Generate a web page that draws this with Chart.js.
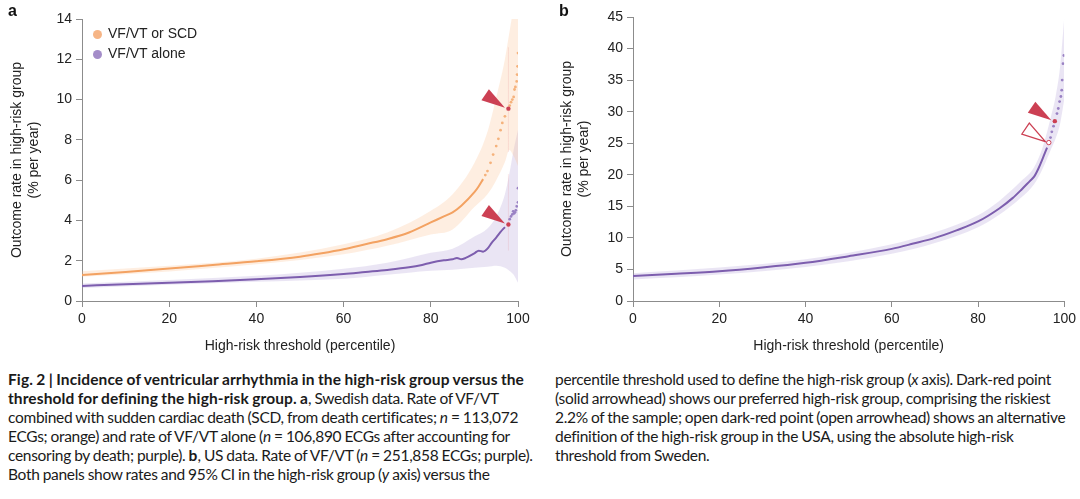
<!DOCTYPE html>
<html>
<head>
<meta charset="utf-8">
<script src="https://cdn.jsdelivr.net/npm/chart.js@4/dist/chart.umd.min.js"></script>
<style>
  body { margin: 0; background: #fff; width: 1080px; height: 499px; overflow: hidden; position: relative; font-family: "Liberation Sans", Arial, sans-serif; }
  canvas { position: absolute; top: 0; }
  #chartA { left: 0; }
  #chartB { left: 545px; }
  .panel { position: absolute; top: 2px; font: bold 16px "Liberation Sans", Arial, sans-serif; color: #111; }
  .legend { position: absolute; left: 93px; font-size: 14px; color: #222; }
  .legend span { display: inline-block; width: 9px; height: 9px; border-radius: 50%; margin-right: 6px; vertical-align: -1px; }
  .caption { position: absolute; top: 370px; font-family: Lato, sans-serif; font-size: 15.5px; line-height: 19px; color: #1a1a1a; white-space: nowrap; letter-spacing: -0.3px; word-spacing: -0.5px; }
  .caption b { font-weight: bold; letter-spacing: 0.1px; }
</style>
</head>
<body>
<canvas id="chartA" width="545" height="360"></canvas>
<canvas id="chartB" width="535" height="360"></canvas>
<div class="panel" style="left:8px">a</div>
<div class="panel" style="left:559px">b</div>
<div class="legend" style="top:25px"><span style="background:#f6b586"></span>VF/VT or SCD</div>
<div class="legend" style="top:45px"><span style="background:#a48dc9"></span>VF/VT alone</div>

<div class="caption" style="left:8px">
<b>Fig. 2 | Incidence of ventricular arrhythmia in the high-risk group versus the</b><br>
<b>threshold for defining the high-risk group. a</b>, Swedish data. Rate of VF/VT<br>
combined with sudden cardiac death (SCD, from death certificates; <i>n</i> = 113,072<br>
ECGs; orange) and rate of VF/VT alone (<i>n</i> = 106,890 ECGs after accounting for<br>
censoring by death; purple). <b>b</b>, US data. Rate of VF/VT (<i>n</i> = 251,858 ECGs; purple).<br>
Both panels show rates and 95% CI in the high-risk group (<i>y</i> axis) versus the
</div>
<div class="caption" style="left:555px">
percentile threshold used to define the high-risk group (<i>x</i> axis). Dark-red point<br>
(solid arrowhead) shows our preferred high-risk group, comprising the riskiest<br>
2.2% of the sample; open dark-red point (open arrowhead) shows an alternative<br>
definition of the high-risk group in the USA, using the absolute high-risk<br>
threshold from Sweden.
</div>

<script>
// ---- panel a : Swedish data ----
// VF/VT or SCD (orange), solid line part
const scdX    = [0, 10, 20, 30, 40, 50, 55, 60, 65, 70, 75, 80, 83, 85, 87, 90, 91, 92];
const scdRate = [1.29, 1.44, 1.61, 1.79, 1.97, 2.2, 2.37, 2.57, 2.82, 3.07, 3.4, 3.9, 4.2, 4.4, 4.73, 5.4, 5.7, 6.05];
// dotted tail
const scdTailX    = [92.5, 93.0, 93.7, 94.3, 95.0, 95.5, 96.0, 96.4, 97.0, 98.1, 98.4, 98.7, 99.0, 99.2, 99.4, 99.7, 99.8, 99.9, 100];
const scdTailRate = [6.25, 6.45, 6.86, 7.27, 7.69, 8.05, 8.48, 8.84, 9.17, 9.70, 9.87, 10.0, 10.13, 10.5, 10.63, 10.9, 11.24, 11.65, 12.31];
// 95% CI
const scdCiX  = [0, 20, 40, 60, 70, 80, 85, 90, 93, 95, 97, 98, 99, 100];
const scdLow  = [1.21, 1.47, 1.82, 2.32, 2.74, 3.3, 3.55, 4.67, 5.3, 6.0, 6.9, 7.5, 7.2, 6.7];
const scdHigh = [1.48, 1.75, 2.1, 2.82, 3.4, 4.48, 5.3, 6.85, 8.4, 10.1, 12.0, 13.3, 14.5, 15];

// VF/VT alone (purple)
const vtX    = [0, 10, 20, 30, 40, 50, 60, 65, 70, 75, 78, 80, 83, 85, 86, 87, 88, 90, 91, 92, 93, 94, 95, 96, 97];
const vtRate = [0.75, 0.83, 0.9, 0.98, 1.08, 1.19, 1.34, 1.44, 1.54, 1.67, 1.79, 1.9, 2.02, 2.07, 2.14, 2.07, 2.14, 2.37, 2.5, 2.45, 2.6, 2.9, 3.15, 3.43, 3.67];
const vtTailX    = [98.1, 98.4, 98.7, 98.9, 99.1, 99.3, 99.5, 99.7, 100, 100];
const vtTailRate = [4.06, 4.2, 4.3, 4.45, 4.35, 4.4, 4.5, 4.7, 4.9, 5.6];
const vtCiX  = [0, 40, 60, 70, 80, 85, 90, 93, 95, 97, 98, 99, 100];
const vtLow  = [0.65, 0.95, 1.1, 1.3, 1.5, 1.55, 1.65, 1.7, 1.75, 1.65, 1.5, 1.3, 0.9];
const vtHigh = [0.87, 1.25, 1.6, 1.9, 2.4, 2.6, 3.2, 3.6, 4.2, 5.3, 6.3, 7.5, 8.5];

// preferred high-risk group (riskiest 2.2%)
const prefPct = 97.8;
const prefScd = 9.55, prefScdCi = [7.4, 12.6];
const prefVt  = 3.8,  prefVtCi  = [2.5, 6.3];

// ---- panel b : US data ----
const usX    = [0, 10, 20, 30, 40, 50, 60, 65, 70, 75, 80, 85, 88, 90, 92, 93, 94, 95, 96];
const usRate = [3.95, 4.3, 4.7, 5.3, 6.05, 7.1, 8.26, 9.1, 10.0, 11.2, 12.6, 14.7, 16.3, 17.6, 19.0, 19.7, 21.0, 22.6, 24.3];
const usTailX    = [96.8, 97.1, 97.5, 98.3, 98.6, 98.9, 99.2, 99.4, 99.5, 99.7, 99.9];
const usTailRate = [25.9, 26.8, 27.7, 29.7, 30.5, 31.6, 32.4, 33.4, 35.0, 37.6, 38.9];
const usCiX  = [0, 20, 40, 60, 70, 80, 85, 90, 93, 95, 97, 98, 99, 100];
const usLow  = [3.4, 4.2, 5.4, 7.5, 9.2, 11.7, 13.7, 16.4, 18.5, 21.0, 24.2, 25.8, 28, 32];
const usHigh = [4.4, 5.3, 6.6, 9.0, 10.9, 13.6, 15.9, 19.0, 21.2, 24.4, 29.5, 32.5, 37, 45];
const usPref = 28.5;
const usAltPct = 96.4, usAlt = 25.1;   // absolute threshold from Sweden

// tick labels
const xTicks  = [0, 20, 40, 60, 80, 100];
const yTicksA = [0, 2, 4, 6, 8, 10, 12, 14];
const yTicksB = [0, 5, 10, 15, 20, 25, 30, 35, 40, 45];

const ORANGE = '#f3a262', ORANGE_DOT = '#f5b27c', ORANGE_BAND = 'rgba(250,190,140,0.26)';
const PURPLE = '#7d5eae', PURPLE_DOT = '#9a82c4', PURPLE_BAND = 'rgba(160,135,205,0.22)';
const RED = '#cc4053';
const AXIS = '#8c8c8c';
const FONT = "'Liberation Sans', Arial, sans-serif";

const zip = (xs, ys) => xs.map((x, i) => ({ x: x, y: ys[i] }));

function band(xs, lo, hi, color) {
  return [
    { data: zip(xs, lo), borderWidth: 0, pointRadius: 0, fill: false, order: 10 },
    { data: zip(xs, hi), borderWidth: 0, pointRadius: 0, fill: '-1', backgroundColor: color, order: 10 }
  ];
}
function line(xs, ys, color) {
  return { data: zip(xs, ys), borderColor: color, borderWidth: 2, pointRadius: 0, order: 2 };
}
function dots(xs, ys, color) {
  return { data: zip(xs, ys), showLine: false, pointRadius: 1.4, pointBorderWidth: 0, pointBackgroundColor: color, order: 1 };
}
function vline(x, ci) {
  return { data: [{ x: x, y: ci[0] }, { x: x, y: ci[1] }], borderColor: 'rgba(225,110,120,0.16)', borderWidth: 1, pointRadius: 0, order: 3 };
}
function redPoint(x, y, open) {
  return { data: [{ x: x, y: y }], showLine: false, pointRadius: 2.2,
           pointBackgroundColor: open ? '#fff' : RED, pointBorderColor: RED, pointBorderWidth: open ? 1 : 0, order: 0 };
}

// arrowheads pointing at the dark-red points
const arrowPlugin = {
  id: 'arrows',
  afterDatasetsDraw(chart, args, opts) {
    const ctx = chart.ctx, xs = chart.scales.x, ys = chart.scales.y;
    (opts.list || []).forEach(a => {
      const px = xs.getPixelForValue(a.x), py = ys.getPixelForValue(a.y);
      ctx.save();
      ctx.beginPath();
      ctx.moveTo(px - 3.5, py - 1);
      ctx.lineTo(px - 27, py - 8.5);
      ctx.lineTo(px - 19.5, py - 19.5);
      ctx.closePath();
      if (a.open) {
        ctx.fillStyle = '#fff'; ctx.fill();
        ctx.strokeStyle = RED; ctx.lineWidth = 1.2; ctx.stroke();
      } else {
        ctx.fillStyle = RED; ctx.fill();
      }
      ctx.restore();
    });
  }
};

function scales(yMax, yTicks, titlePad, yWidth) {
  const font = { family: FONT, size: 14 };
  return {
    x: {
      type: 'linear', min: 0, max: 100,
      afterBuildTicks: s => { s.ticks = xTicks.map(v => ({ value: v })); },
      afterFit: s => { s.height = 59; },
      ticks: { font: font, color: '#222', padding: 4 },
      grid: { drawOnChartArea: false, tickLength: 6, color: AXIS },
      border: { color: AXIS },
      title: { display: true, text: 'High-risk threshold (percentile)', color: '#222',
               font: { family: FONT, size: 14 }, padding: { top: 0, bottom: 5 } }
    },
    y: {
      type: 'linear', min: 0, max: yMax,
      afterBuildTicks: s => { s.ticks = yTicks.map(v => ({ value: v })); },
      afterFit: s => { s.width = yWidth; },
      ticks: { font: font, color: '#222', padding: 4 },
      grid: { drawOnChartArea: false, tickLength: 6, color: AXIS },
      border: { color: AXIS },
      title: { display: true, text: ['Outcome rate in high-risk group', '(% per year)'], color: '#222',
               font: { family: FONT, size: 14 }, padding: { top: titlePad, bottom: 0 } }
    }
  };
}

const common = {
  responsive: false, animation: false, devicePixelRatio: 1,
  plugins: { legend: { display: false }, tooltip: { enabled: false } },
  elements: { line: { cubicInterpolationMode: 'monotone' } }
};

new Chart(document.getElementById('chartA'), {
  type: 'line',
  data: {
    datasets: [
      ...band(scdCiX, scdLow, scdHigh, ORANGE_BAND),
      ...band(vtCiX, vtLow, vtHigh, PURPLE_BAND),
      line(scdX, scdRate, ORANGE),
      dots(scdTailX, scdTailRate, ORANGE_DOT),
      line(vtX, vtRate, PURPLE),
      dots(vtTailX, vtTailRate, PURPLE_DOT),
      vline(prefPct, prefScdCi),
      vline(prefPct, prefVtCi),
      redPoint(prefPct, prefScd, false),
      redPoint(prefPct, prefVt, false)
    ]
  },
  options: Object.assign({}, common, {
    layout: { padding: { top: 19, right: 27, bottom: 0, left: 0 } },
    scales: scales(14, yTicksA, 9, 82),
    plugins: Object.assign({}, common.plugins, {
      arrows: { list: [{ x: prefPct, y: prefScd }, { x: prefPct, y: prefVt }] }
    })
  }),
  plugins: [arrowPlugin]
});

new Chart(document.getElementById('chartB'), {
  type: 'line',
  data: {
    datasets: [
      ...band(usCiX, usLow, usHigh, PURPLE_BAND),
      line(usX, usRate, PURPLE),
      dots(usTailX, usTailRate, PURPLE_DOT),
      redPoint(prefPct, usPref, false),
      redPoint(usAltPct, usAlt, true)
    ]
  },
  options: Object.assign({}, common, {
    layout: { padding: { top: 17, right: 14, bottom: 0, left: 0 } },
    scales: scales(45, yTicksB, 14, 88),
    plugins: Object.assign({}, common.plugins, {
      arrows: { list: [{ x: prefPct, y: usPref }, { x: usAltPct, y: usAlt, open: true }] }
    })
  }),
  plugins: [arrowPlugin]
});
</script>
</body>
</html>
